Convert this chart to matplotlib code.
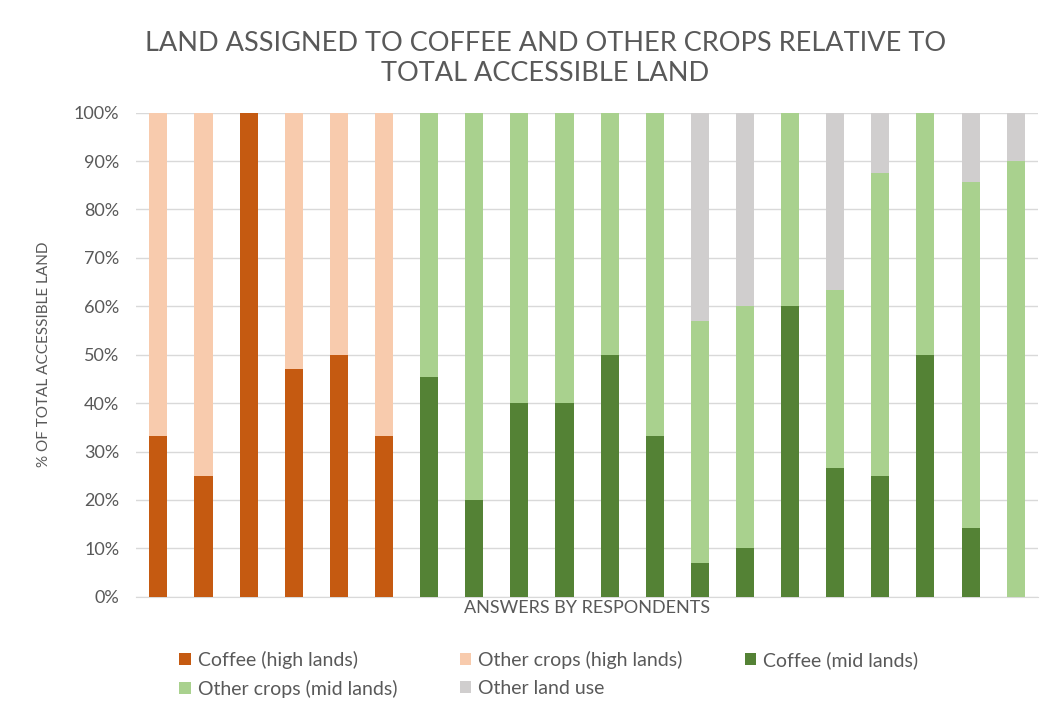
import numpy as np
import matplotlib
matplotlib.use("Agg")
import matplotlib.pyplot as plt
from matplotlib.patches import Patch

# Values (% of total accessible land), one entry per respondent
respondents = list(range(1, 21))
coffee_high = [33.3, 25, 100, 47, 50, 33.3] + [0] * 14
other_high = [66.7, 75, 0, 53, 50, 66.7] + [0] * 14
coffee_mid = [0] * 6 + [45.5, 20, 40, 40, 50, 33.3, 7, 10, 60, 26.7, 25, 50, 14.3, 0]
other_mid = [0] * 6 + [54.5, 80, 60, 60, 50, 66.7, 50, 50, 40, 36.6, 62.5, 50, 71.4, 90]
other_use = [0] * 12 + [43, 40, 0, 36.7, 12.5, 0, 14.3, 10]

series_names = ["Coffee (high lands)", "Other crops (high lands)", "Coffee (mid lands)",
                "Other crops (mid lands)", "Other land use"]
colors = ["#c55a11", "#f8cbad", "#548235", "#a9d18e", "#d0cece"]

plt.rcParams["font.family"] = ["Lato", "DejaVu Sans"]

fig = plt.figure(figsize=(10.53, 7.13), dpi=100)
ax = fig.add_axes([0.129, 0.163, 0.857, 0.679])

x = np.arange(len(respondents))
bottom = np.zeros(len(respondents))
for vals, col in zip([coffee_high, other_high, coffee_mid, other_mid, other_use], colors):
    vals = np.array(vals, dtype=float)
    ax.bar(x, vals, bottom=bottom, width=0.4, color=col, zorder=3)
    bottom += vals

ax.set_xlim(-0.5, len(respondents) - 0.5)
ax.set_ylim(0, 100)
ax.set_yticks(np.arange(0, 101, 10))
ax.set_yticklabels([f"{v}%" for v in range(0, 101, 10)], fontsize=13, color="#595959")
ax.set_xticks([])
ax.yaxis.grid(True, color="#d9d9d9", linewidth=1, zorder=0)
ax.tick_params(axis="y", length=0, pad=12)
for s in ["top", "right", "left"]:
    ax.spines[s].set_visible(False)
ax.spines["bottom"].set_color("#d9d9d9")

ax.set_xlabel("ANSWERS BY RESPONDENTS", fontsize=13, color="#595959", labelpad=2)
ax.set_ylabel("% OF TOTAL ACCESSIBLE LAND", fontsize=11, color="#595959", labelpad=16)

fig.text(0.518, 0.918, "LAND ASSIGNED TO COFFEE AND OTHER CROPS RELATIVE TO\nTOTAL ACCESSIBLE LAND",
         ha="center", va="center", fontsize=19.5, color="#595959", linespacing=1.25)

# legend fills column by column, so reorder to read row by row like the original
order = [0, 3, 1, 4, 2]
handles = [Patch(facecolor=colors[i], edgecolor="none") for i in order]
labels = [series_names[i] for i in order]
fig.legend(handles, labels, loc="upper left", bbox_to_anchor=(0.163, 0.098),
           ncol=3, frameon=False, fontsize=14, labelcolor="#595959",
           handlelength=0.6, handleheight=0.6, handletextpad=0.35,
           columnspacing=3.2, borderaxespad=0, labelspacing=0.55)

fig.savefig("out.png", dpi=100)
